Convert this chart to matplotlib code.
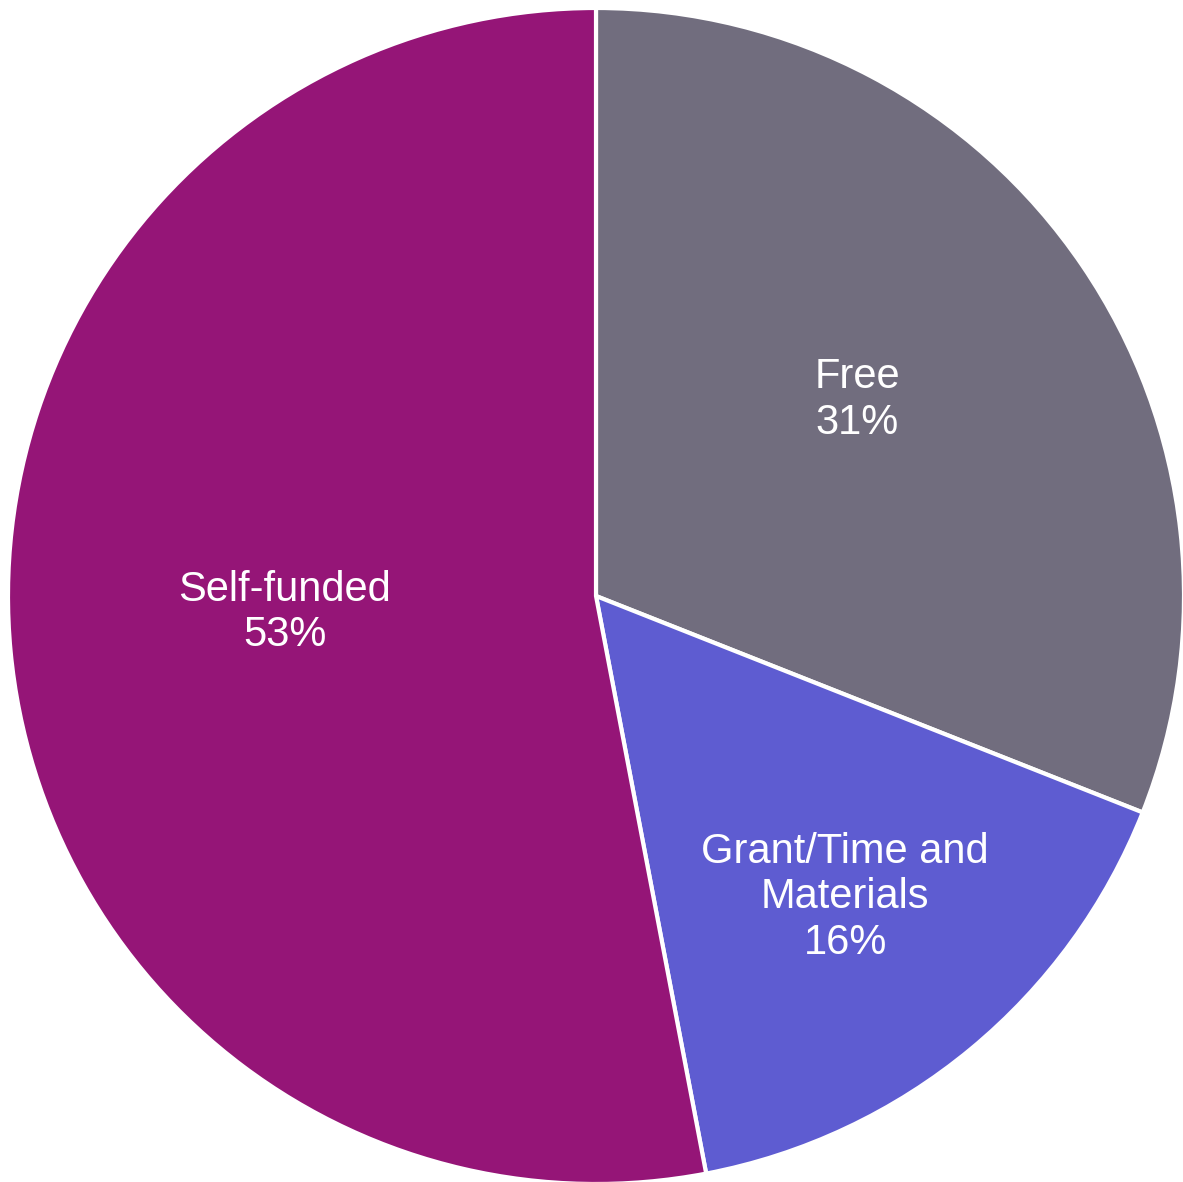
import numpy as np
import matplotlib
matplotlib.use("Agg")
import matplotlib.pyplot as plt

plt.rcParams['font.family'] = ['Liberation Sans', 'DejaVu Sans']

labels = ["Free", "Grant/Time and\nMaterials", "Self-funded"]
shares = [31, 16, 53]
colors = ["#716d7e", "#5e5cd1", "#951577"]
# label placement: fraction of radius, and a small turn off the wedge middle (deg)
label_r = [0.555, 0.665, 0.53]
label_turn = [2.7, 0.0, -2.4]

fig = plt.figure(figsize=(11.83, 11.82), dpi=100)
ax = fig.add_axes([0, 0, 1, 1])

wedges, _ = ax.pie(shares, colors=colors, startangle=90, counterclock=False,
                   wedgeprops=dict(edgecolor='white', linewidth=3))

for w, lab, val, r, dt in zip(wedges, labels, shares, label_r, label_turn):
    mid = np.radians((w.theta1 + w.theta2) / 2 + dt)
    ax.text(r * np.cos(mid), r * np.sin(mid), f"{lab}\n{val}%",
            ha='center', va='center', color='white', fontsize=30,
            linespacing=1.17)

# place the pie like the reference: centre at (596, 596) px, radius 588 px
R = 588.0
ax.set_aspect('auto')
ax.set_xlim(-596 / R, (1183 - 596) / R)
ax.set_ylim(-(1182 - 596) / R, 596 / R)
ax.axis('off')

fig.savefig("out.png", dpi=100)
